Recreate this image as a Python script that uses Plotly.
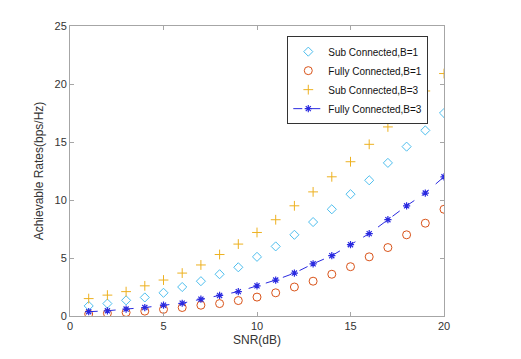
import plotly.graph_objects as go

snr = list(range(1, 21))
sub_b1 = [0.87, 1.07, 1.35, 1.6, 2.0, 2.5, 3.0, 3.6, 4.2, 5.1, 6.0, 7.0, 8.1, 9.2, 10.5, 11.7, 13.2, 14.6, 16.0, 17.5]
full_b1 = [0.17, 0.23, 0.3, 0.42, 0.57, 0.73, 0.93, 1.07, 1.33, 1.63, 2.0, 2.5, 3.0, 3.6, 4.25, 5.1, 5.9, 7.0, 8.0, 9.2]
sub_b3 = [1.5, 1.8, 2.1, 2.6, 3.1, 3.7, 4.4, 5.3, 6.2, 7.2, 8.3, 9.5, 10.7, 12.0, 13.3, 14.8, 16.3, 17.8, 19.4, 20.9]
full_b3 = [0.37, 0.45, 0.6, 0.73, 0.93, 1.1, 1.45, 1.77, 2.1, 2.6, 3.1, 3.7, 4.5, 5.2, 6.15, 7.1, 8.3, 9.5, 10.6, 12.0]

names = ["Sub Connected,B=1", "Fully Connected,B=1", "Sub Connected,B=3", "Fully Connected,B=3"]
x_ticks = [0, 5, 10, 15, 20]
y_ticks = [0, 5, 10, 15, 20, 25]

fig = go.Figure()
fig.add_trace(go.Scatter(x=snr, y=sub_b1, mode="markers", name=names[0],
                         marker=dict(symbol="diamond-open", size=7, color="#4DBEEE", line=dict(width=1))))
fig.add_trace(go.Scatter(x=snr, y=full_b1, mode="markers", name=names[1],
                         marker=dict(symbol="circle-open", size=8, color="#D95319", line=dict(width=1))))
fig.add_trace(go.Scatter(x=snr, y=sub_b3, mode="markers", name=names[2],
                         marker=dict(symbol="cross-thin-open", size=7, color="#EDB120", line=dict(width=1))))
fig.add_trace(go.Scatter(x=snr, y=full_b3, mode="lines+markers", name=names[3],
                         line=dict(color="#2a2ae0", width=1, dash="dash"),
                         marker=dict(symbol="asterisk-open", size=6, color="#2a2ae0", line=dict(width=1.2))))

axis_common = dict(showline=True, linecolor="#a6a6a6", linewidth=1, mirror="ticks",
                   ticks="inside", ticklen=4, tickcolor="#a6a6a6", showgrid=False, zeroline=False,
                   tickfont=dict(family="Liberation Sans, Arial", size=11, color="#333333"))

fig.update_xaxes(range=[0, 20], tickvals=x_ticks, title=dict(text="SNR(dB)", standoff=4,
                 font=dict(family="Liberation Sans, Arial", size=12, color="#333333")), **axis_common)
fig.update_yaxes(range=[0, 25], tickvals=y_ticks, title=dict(text="Achievable Rates(bps/Hz)", standoff=8,
                 font=dict(family="Liberation Sans, Arial", size=12, color="#333333")), **axis_common)

fig.update_layout(
    width=521, height=359,
    margin=dict(l=62, r=85, t=12, b=51),
    paper_bgcolor="white", plot_bgcolor="white",
    legend=dict(x=0.958, y=0.965, xanchor="right", yanchor="top",
                bgcolor="white", bordercolor="#333333", borderwidth=1,
                font=dict(family="Liberation Sans, Arial", size=10, color="#111111"),
                tracegroupgap=0, itemwidth=30),
    showlegend=True,
)

fig.write_html("out.html")
